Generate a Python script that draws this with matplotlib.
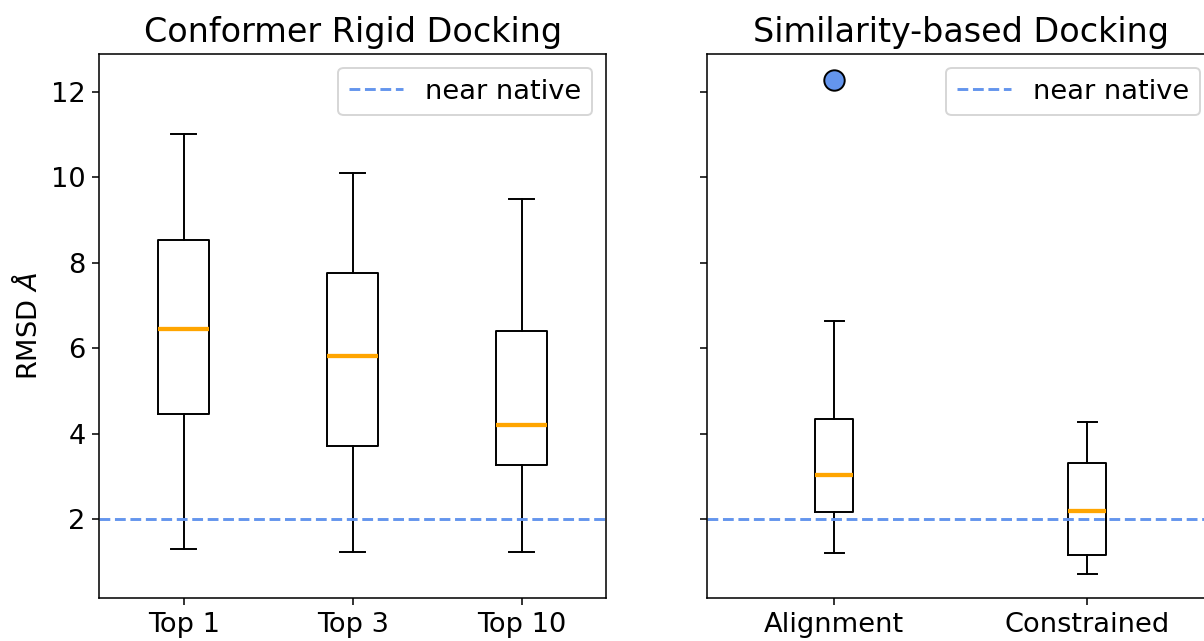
import matplotlib
matplotlib.use("Agg")
import matplotlib.pyplot as plt

plt.rcParams['font.family'] = ['DejaVu Sans']
plt.rcParams['font.size'] = 14

left_labels = ["Top 1", "Top 3", "Top 10"]
left_whislo = [1.31, 1.24, 1.24]
left_q1 = [4.45, 3.71, 3.27]
left_med = [6.44, 5.81, 4.20]
left_q3 = [8.54, 7.76, 6.40]
left_whishi = [11.01, 10.09, 9.48]

right_labels = ["Alignment", "Constrained"]
right_whislo = [1.20, 0.72]
right_q1 = [2.16, 1.17]
right_med = [3.03, 2.18]
right_q3 = [4.34, 3.30]
right_whishi = [6.64, 4.27]
right_fliers = [[12.27], []]

near_native = 2.0
titles = ["Conformer Rigid Docking", "Similarity-based Docking"]
ylabel = "RMSD $\\AA$"


def make_stats(labels, lo, q1, med, q3, hi, fliers=None):
    out = []
    for i, lab in enumerate(labels):
        out.append(dict(label=lab, whislo=lo[i], q1=q1[i], med=med[i],
                        q3=q3[i], whishi=hi[i],
                        fliers=(fliers[i] if fliers else [])))
    return out


fig = plt.figure(figsize=(1204 / 140, 641 / 140), dpi=140)
ax1 = fig.add_axes([0.0825, 0.0666, 0.4208, 0.849])
ax2 = fig.add_axes([0.5875, 0.0666, 0.4208, 0.849], sharey=ax1)

medprops = dict(color="orange", linewidth=2.2)
flierprops = dict(marker="o", markerfacecolor="cornflowerblue",
                  markeredgecolor="black", markersize=10.5)

s1 = make_stats(left_labels, left_whislo, left_q1, left_med, left_q3, left_whishi)
ax1.bxp(s1, widths=0.3, medianprops=medprops, flierprops=flierprops)
s2 = make_stats(right_labels, right_whislo, right_q1, right_med, right_q3,
                right_whishi, right_fliers)
ax2.bxp(s2, widths=0.15, medianprops=medprops, flierprops=flierprops)

for ax, t in zip([ax1, ax2], titles):
    ax.axhline(near_native, color="cornflowerblue", linestyle="--",
               linewidth=1.5, label="near native")
    ax.set_title(t, fontsize=17.2)
    ax.legend(loc="upper right")

ax1.set_ylim(0.145, 12.88)
ax1.set_yticks([2, 4, 6, 8, 10, 12])
ax1.set_ylabel(ylabel)
plt.setp(ax2.get_yticklabels(), visible=False)

fig.savefig("out.png", dpi=140)
